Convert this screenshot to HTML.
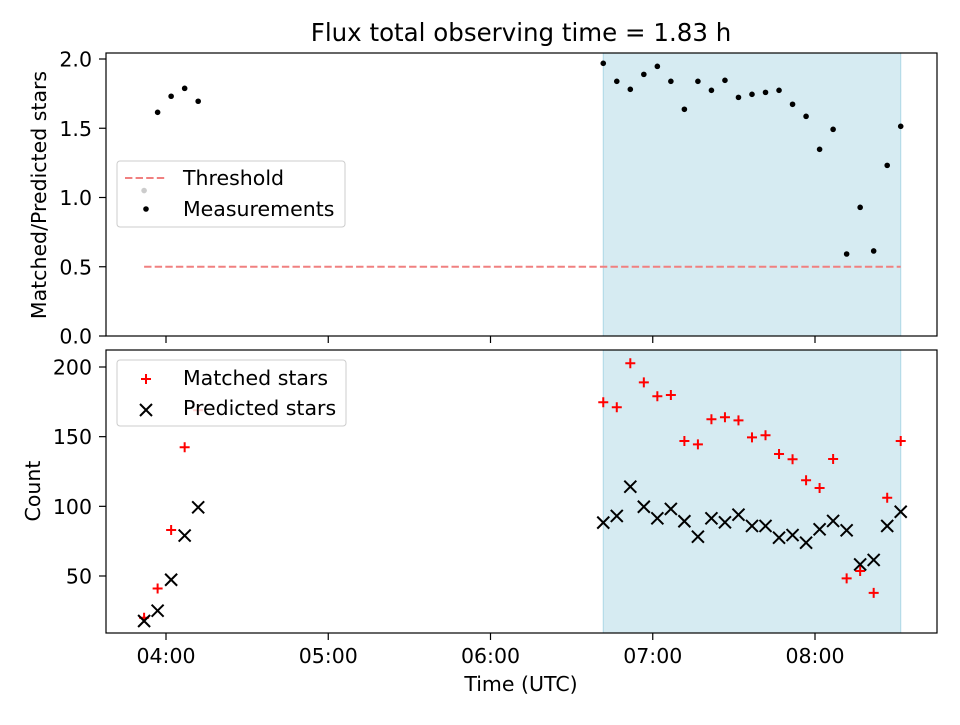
<!DOCTYPE html>
<html><head><meta charset="utf-8"><style>
body{margin:0;background:#fff}
svg{font-family:"DejaVu Sans","Liberation Sans",sans-serif}
</style></head><body>
<svg id="c" width="960" height="720" viewBox="0 0 960 720" xmlns="http://www.w3.org/2000/svg"></svg>
<script>
const timesEarly=[231.9,236.9,241.9,246.9,251.9];
const timesLate=[401.7,406.7,411.7,416.7,421.7,426.7,431.7,436.7,441.7,446.7,451.7,456.7,461.7,466.7,471.7,476.7,481.7,486.7,491.7,496.7,501.7,506.7,511.7];
const ratioEarly=[1.05,1.615,1.731,1.788,1.695];
const ratioLate=[1.969,1.839,1.781,1.889,1.947,1.839,1.637,1.839,1.774,1.846,1.723,1.745,1.759,1.774,1.673,1.586,1.348,1.492,0.592,0.929,0.614,1.232,1.514];
const matchedEarly=[20,41,83,142.4,169];
const matchedLate=[174.7,171.1,202.7,189,179,179.9,146.9,144.5,162.5,163.9,161.7,149.5,151,137.6,133.8,118.7,113.2,134,48.3,53.6,37.9,106.2,146.9];
const predEarly=[17.7,25.1,47.3,79,99.3];
const predLate=[88.3,93.1,114.1,99.7,91.4,98.1,89.3,78.2,91.4,88.5,94,85.9,85.9,77.5,79.4,73.9,83.5,89.5,82.8,58.3,61.5,85.9,96.1];
const threshold=0.5;
const xTickMin=[240,300,360,420,480];
const xTickLabels=["04:00","05:00","06:00","07:00","08:00"];
const topTicks=[0,0.5,1,1.5,2];
const topTickLabels=["0.0","0.5","1.0","1.5","2.0"];
const botTicks=[50,100,150,200];
const botTickLabels=["50","100","150","200"];

const svg=document.getElementById('c');
const NS="http://www.w3.org/2000/svg";
const L=106,R=937,T1=53,B1=336,T2=350,B2=633;
const FS='20.5';
const X=m=>166+(m-240)/60*162.25;
const Y1=v=>336-v*138.5;
const Y2=v=>367+(200-v)*1.3933;
function el(tag,attrs,parent){const e=document.createElementNS(NS,tag);for(const k in attrs)e.setAttribute(k,attrs[k]);(parent||svg).appendChild(e);return e;}
function txt(s,attrs){const e=el('text',attrs);e.textContent=s;return e;}

const t=txt("Flux total observing time = 1.83 h",{x:521,y:41,'text-anchor':'middle','font-size':'24.5'});



const xs0=X(timesLate[0]),xs1=X(timesLate[timesLate.length-1]);
[[T1,B1],[T2,B2]].forEach(([a,b],i)=>{
 const s=el('rect',{x:xs0,y:a,width:xs1-xs0,height:b-a,fill:'#add8e6','fill-opacity':0.5,stroke:'#add8e6','stroke-width':1});
 
 
});

const th=el('line',{x1:X(timesEarly[0]),x2:xs1,y1:Y1(threshold),y2:Y1(threshold),stroke:'#f08080','stroke-width':2,'stroke-dasharray':'7.4,3.2'});



function dot(tm,v){const c=el('circle',{cx:X(tm),cy:Y1(v),r:2.8,fill:'#000'});
 
 }
timesEarly.forEach((tm,i)=>dot(tm,ratioEarly[i]));
timesLate.forEach((tm,i)=>dot(tm,ratioLate[i]));

function plus(tm,v){const x=X(tm),y=Y2(v);const g=el('path',{d:`M${x-5},${y}H${x+5}M${x},${y-5}V${y+5}`,stroke:'#f00','stroke-width':2});
 
 }
function cross(tm,v){const x=X(tm),y=Y2(v);const g=el('path',{d:`M${x-6},${y-6}L${x+6},${y+6}M${x-6},${y+6}L${x+6},${y-6}`,stroke:'#000','stroke-width':2});
 
 }
timesEarly.forEach((tm,i)=>plus(tm,matchedEarly[i]));
timesLate.forEach((tm,i)=>plus(tm,matchedLate[i]));
timesEarly.forEach((tm,i)=>cross(tm,predEarly[i]));
timesLate.forEach((tm,i)=>cross(tm,predLate[i]));

[[T1,B1],[T2,B2]].forEach(([a,b],i)=>{
 const f=el('rect',{x:L,y:a,width:R-L,height:b-a,fill:'none',stroke:'#000','stroke-width':1.2});
 
 
 xTickMin.forEach((m,j)=>{el('line',{x1:X(m),x2:X(m),y1:b,y2:b+7,stroke:'#000','stroke-width':1.2});});
});
xTickMin.forEach((m,j)=>{const e=txt(xTickLabels[j],{x:X(m),y:B2+30,'text-anchor':'middle','font-size':FS});
 
 });
topTicks.forEach((v,j)=>{el('line',{x1:L-7,x2:L,y1:Y1(v),y2:Y1(v),stroke:'#000','stroke-width':1.2});
 const e=txt(topTickLabels[j],{x:L-14,y:Y1(v)+7.5,'text-anchor':'end','font-size':FS});
 
 });
botTicks.forEach((v,j)=>{el('line',{x1:L-7,x2:L,y1:Y2(v),y2:Y2(v),stroke:'#000','stroke-width':1.2});
 const e=txt(botTickLabels[j],{x:L-14,y:Y2(v)+7.5,'text-anchor':'end','font-size':FS});
 
 });
let e=txt("Time (UTC)",{x:521,y:691,'text-anchor':'middle','font-size':FS});


e=txt("Matched/Predicted stars",{x:0,y:0,transform:`translate(46,195) rotate(-90)`,'text-anchor':'middle','font-size':FS});


e=txt("Count",{x:0,y:0,transform:`translate(40,491) rotate(-90)`,'text-anchor':'middle','font-size':FS});



let lg=el('rect',{x:117,y:161,width:228,height:66,rx:3,fill:'#fff','fill-opacity':0.8,stroke:'#ccc'});


el('line',{x1:125,x2:167,y1:178,y2:178,stroke:'#f08080','stroke-width':2,'stroke-dasharray':'7.4,3.2'});
el('circle',{cx:146,cy:209,r:2.8,fill:'#000'});
e=txt("Threshold",{x:183,y:185,'font-size':FS});


e=txt("Measurements",{x:183,y:216,'font-size':FS});



lg=el('rect',{x:117,y:360,width:229,height:66,rx:3,fill:'#fff','fill-opacity':0.8,stroke:'#ccc'});


el('path',{d:'M141,379H151M146,374V384',stroke:'#f00','stroke-width':2});
el('path',{d:'M140,404L152,416M140,416L152,404',stroke:'#000','stroke-width':2});
e=txt("Matched stars",{x:183,y:385,'font-size':FS});


e=txt("Predicted stars",{x:183,y:415,'font-size':FS});


</script>
</body></html>
